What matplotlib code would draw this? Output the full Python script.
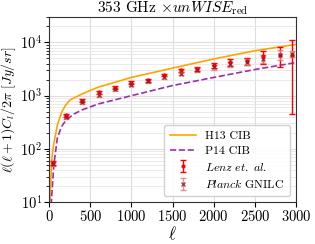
import numpy as np
import matplotlib
matplotlib.use("Agg")
import matplotlib.pyplot as plt

plt.rcParams['font.family'] = 'serif'
plt.rcParams['font.serif'] = ['cmr10', 'DejaVu Serif']
plt.rcParams['mathtext.fontset'] = 'cm'
plt.rcParams['axes.formatter.use_mathtext'] = True

# Model curves
ell_h13 = [10, 30, 50, 100, 150, 200, 250, 400, 600, 1000, 1500, 2000, 2500, 3000]
cl_h13 = [10, 60, 110, 280, 480, 660, 820, 1080, 1450, 2200, 3300, 4900, 7000, 9200]
ell_p14 = [20, 30, 57, 100, 150, 200, 300, 400, 600, 1000, 1500, 2000, 2500, 3000]
cl_p14 = [6, 12, 50, 160, 260, 340, 450, 540, 700, 1000, 1550, 2200, 3100, 4200]

# Data points
ells = [50, 200, 400, 600, 800, 1000, 1200, 1400, 1600, 1800, 2000, 2200, 2400, 2600, 2800, 2950]
lenz = [55, 430, 800, 1150, 1420, 1750, 1950, 2450, 3000, 3200, 3700, 4200, 4500, 5500, 5800, 5800]
lenz_err = [5, 30, 50, 70, 80, 100, 120, 150, 200, 250, 400, 600, 700, 1500, 2300, 5350]
gnilc = [52, 400, 760, 1020, 1320, 1600, 1870, 2200, 2600, 3000, 3400, 3900, 4300, 4900, 5900, 6200]
gnilc_err = [5, 30, 50, 60, 80, 100, 120, 150, 200, 250, 300, 400, 500, 800, 1200, 800]

fig = plt.figure(figsize=(3.15, 2.44), dpi=100)
ax = fig.add_axes([0.156, 0.172, 0.784, 0.758])

ax.plot(ell_h13, cl_h13, color='orange', lw=1.2, label='H13 CIB')
ax.plot(ell_p14, cl_p14, color='#9b30a8', lw=1.2, ls='--', label='P14 CIB')
ax.errorbar(ells, lenz, yerr=lenz_err, fmt='.', color='red', ms=4, capsize=2.5,
            elinewidth=1, label=r'$Lenz\ et.\ al.$')
ax.errorbar(ells, gnilc, yerr=gnilc_err, fmt='x', color='#8b2020', ecolor='#f07070',
            ms=3.5, mew=1, capsize=2.5, elinewidth=1, alpha=0.8,
            label=r'$Planck$ GNILC')

ax.set_yscale('log')
ax.set_xlim(0, 3000)
ax.set_ylim(10, 3e4)
ax.set_xticks([0, 500, 1000, 1500, 2000, 2500, 3000])
ax.grid(True, which='major', color='#dddddd', lw=0.8)
ax.grid(True, which='minor', axis='y', color='#e6e6e6', lw=0.6)
ax.set_axisbelow(True)
ax.tick_params(labelsize=10.5, direction='out', pad=1.5)
ax.set_xlabel(r'$\ell$', fontsize=12)
ax.set_ylabel(r'$\ell(\ell+1)C_l/2\pi\ [Jy/sr]$', fontsize=10)
ax.xaxis.set_label_coords(0.5, -0.125)
ax.yaxis.set_label_coords(-0.128, 0.5)
ax.set_title(r'353 GHz $\times unWISE_{\rm red}$', fontsize=11, pad=3)
for s in ax.spines.values():
    s.set_color('#333333')
ax.legend(loc='lower right', fontsize=8.5, framealpha=0.9, handlelength=2.2,
          borderpad=0.5, labelspacing=0.4)

fig.savefig('out.png', dpi=100)
